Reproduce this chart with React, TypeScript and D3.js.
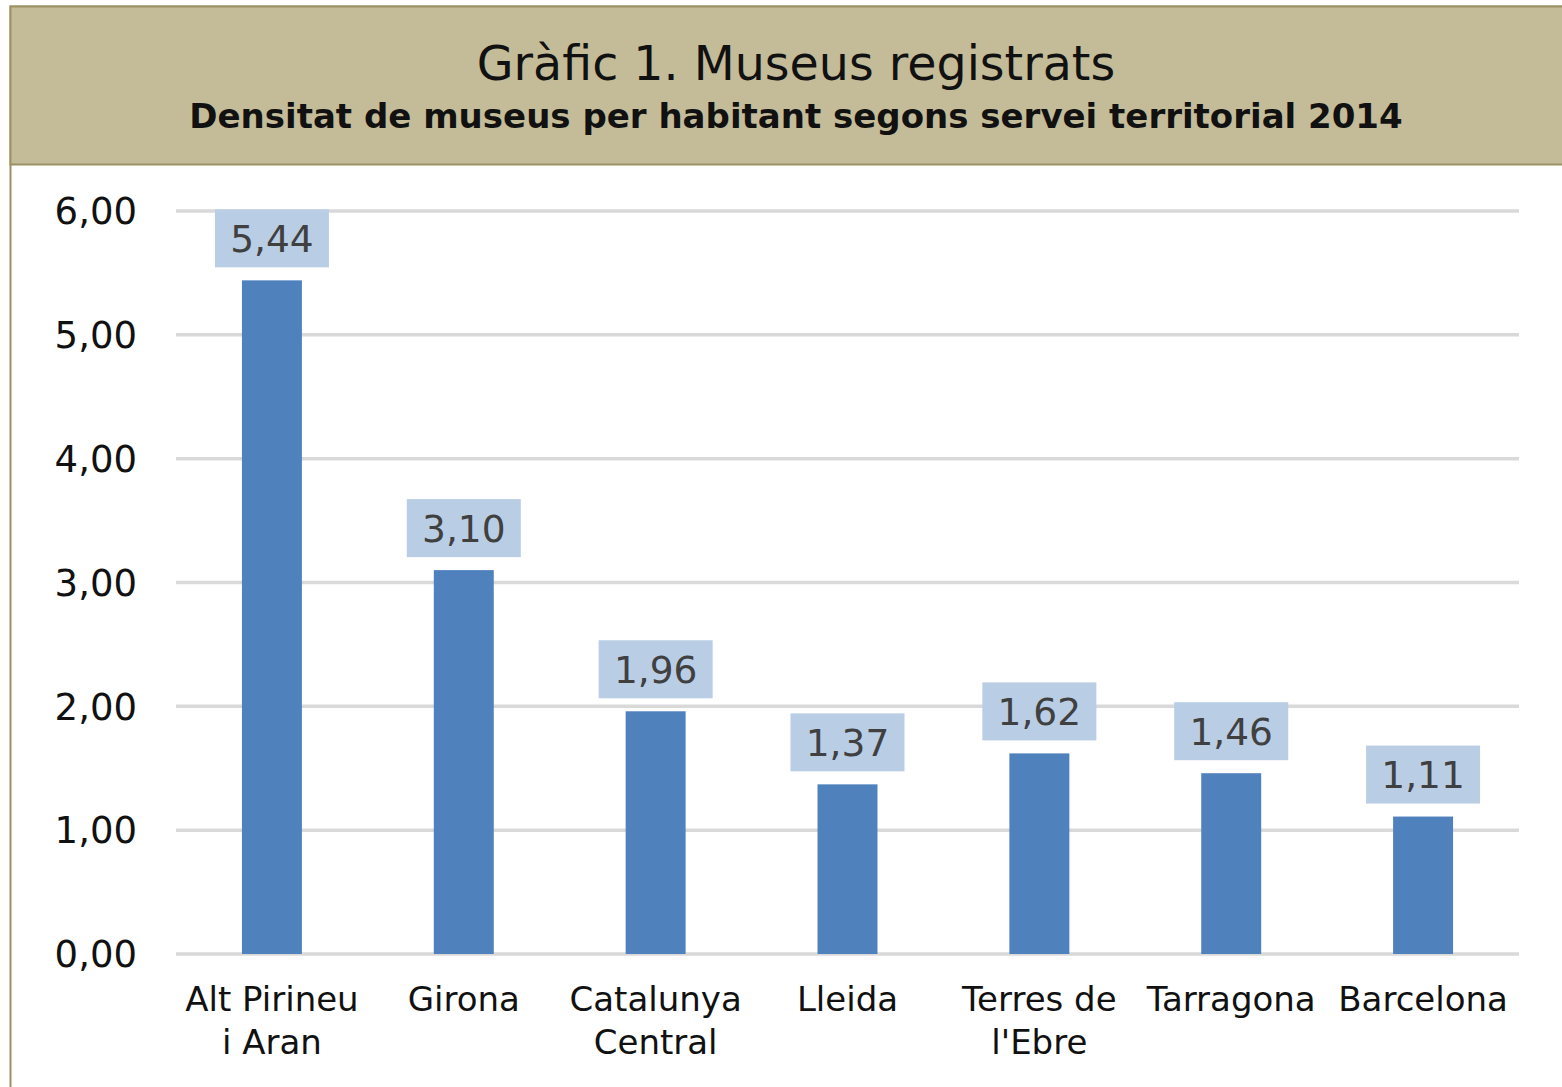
import React from 'react';
import * as d3 from 'd3';

// servei territorial i densitat de museus (per habitant)
const categories = [
  ['Alt Pirineu', 'i Aran'],
  ['Girona'],
  ['Catalunya', 'Central'],
  ['Lleida'],
  ['Terres de', "l'Ebre"],
  ['Tarragona'],
  ['Barcelona'],
];
const values = [5.44, 3.1, 1.96, 1.37, 1.62, 1.46, 1.11];
const yTicks = [0, 1, 2, 3, 4, 5, 6];

const title = 'Gràfic 1. Museus registrats';
const subtitle = 'Densitat de museus per habitant segons servei territorial 2014';

const W = 1562;
const H = 1087;
const font = '"DejaVu Sans", Verdana, sans-serif';

const fmt = (v: number) => v.toFixed(2).replace('.', ',');

const App = () => {
  const keys = categories.map((c) => c.join(' '));

  const x = d3
    .scaleBand<string>()
    .domain(keys)
    .range([176, 1519])
    .paddingInner(0.6875)
    .paddingOuter(0.34375);

  const y = d3.scaleLinear().domain([0, 6]).range([954, 211]);

  const boxW = 114;
  const boxH = 58;

  return (
    <svg
      width={W}
      height={H}
      style={{ position: 'absolute', left: 0, top: 0, background: '#fff' }}
      fontFamily={font}
    >
      {/* outer frame and header band */}
      <rect x={10.5} y={6.5} width={1600} height={1200} fill="#fff" stroke="#9b9163" strokeWidth={2} />
      <rect x={10.5} y={6.5} width={1600} height={158} fill="#c4bc98" stroke="#9b9163" strokeWidth={2} />
      <text x={796} y={80} textAnchor="middle" fontSize={47.5} fill="#111">
        {title}
      </text>
      <text x={796} y={128} textAnchor="middle" fontSize={34} fontWeight="bold" fill="#111">
        {subtitle}
      </text>

      {/* gridlines */}
      <g>
        {yTicks.map((t) => (
          <line key={t} x1={176} x2={1519} y1={y(t)} y2={y(t)} stroke="#d9d9d9" strokeWidth={3.5} />
        ))}
      </g>

      {/* y axis labels */}
      <g fontSize={37} fill="#111" textAnchor="end">
        {yTicks.map((t) => (
          <text key={t} x={137} y={y(t)} dy="0.36em">
            {fmt(t)}
          </text>
        ))}
      </g>

      {/* bars */}
      <g>
        {values.map((v, i) => (
          <rect
            key={keys[i]}
            x={x(keys[i])}
            y={y(v)}
            width={x.bandwidth()}
            height={y(0) - y(v)}
            fill="#4f81bd"
          />
        ))}
      </g>

      {/* value labels */}
      <g fontSize={37.5} fill="#404040" textAnchor="middle">
        {values.map((v, i) => {
          const cx = (x(keys[i]) ?? 0) + x.bandwidth() / 2;
          const bottom = y(v) - 13;
          return (
            <g key={keys[i]}>
              <rect x={cx - boxW / 2} y={bottom - boxH} width={boxW} height={boxH} fill="#b9cde5" />
              <text x={cx} y={bottom - boxH / 2} dy="0.36em">
                {fmt(v)}
              </text>
            </g>
          );
        })}
      </g>

      {/* category labels */}
      <g fontSize={34} fill="#111" textAnchor="middle">
        {categories.map((lines, i) => {
          const cx = (x(keys[i]) ?? 0) + x.bandwidth() / 2;
          return (
            <text key={keys[i]} x={cx} y={1011}>
              {lines.map((l, j) => (
                <tspan key={j} x={cx} dy={j === 0 ? 0 : 43}>
                  {l}
                </tspan>
              ))}
            </text>
          );
        })}
      </g>
    </svg>
  );
};

export default App;
